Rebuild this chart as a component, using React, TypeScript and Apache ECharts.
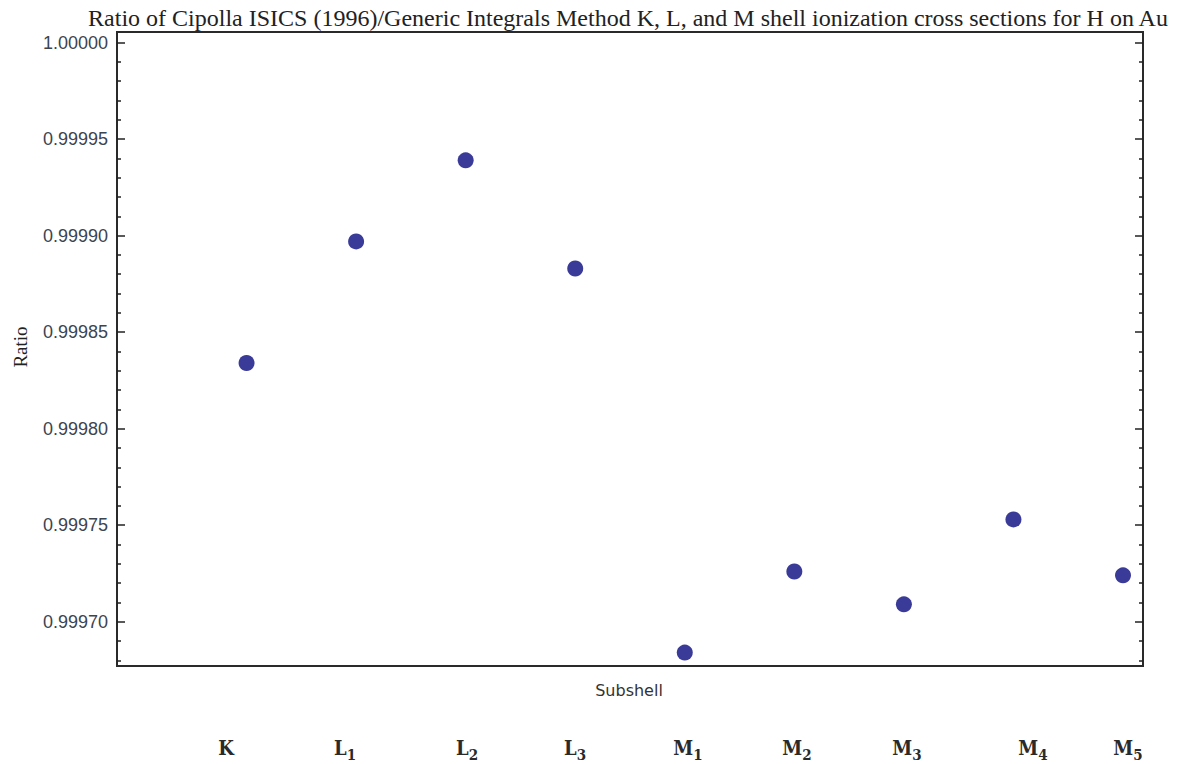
import React, { useEffect, useRef } from "react";
import * as echarts from "echarts";

const TITLE = "Ratio of Cipolla ISICS (1996)/Generic Integrals Method K, L, and M shell ionization cross sections for H on Au";
const Y_NAME = "Ratio";
const X_NAME = "Subshell";

// subshell categories (base letter + subscript)
const subshellBase = ["K", "L", "L", "L", "M", "M", "M", "M", "M"];
const subshellSub = ["", "1", "2", "3", "1", "2", "3", "4", "5"];
const subshellIndex = [1, 2, 3, 4, 5, 6, 7, 8, 9];
const ratioValues = [0.999834, 0.999897, 0.999939, 0.999883, 0.999684, 0.999726, 0.999709, 0.999753, 0.999724];

// y tick labels
const yMajorTicks = [0.9997, 0.99975, 0.9998, 0.99985, 0.9999, 0.99995, 1.0];
const yMinorTicks = [
  0.99968, 0.99969, 0.99971, 0.99972, 0.99973, 0.99974, 0.99976, 0.99977, 0.99978, 0.99979,
  0.99981, 0.99982, 0.99983, 0.99984, 0.99986, 0.99987, 0.99988, 0.99989, 0.99991, 0.99992,
  0.99993, 0.99994, 0.99996, 0.99997, 0.99998, 0.99999,
];

const Y_MIN = 0.99967705;
const Y_MAX = 1.0000055;
const X_MIN = -0.1825;
const X_MAX = 9.1825;

// label layout (pixel centres)
const labelX = [226, 345, 467, 575, 688, 797, 907, 1033, 1128];
const LABEL_Y = 748;
const LABEL_FONT = "'DejaVu Serif Condensed', 'DejaVu Serif', serif";

export default function App() {
  const ref = useRef<HTMLDivElement>(null);
  useEffect(() => {
    if (!ref.current) return;
    const chart = echarts.init(ref.current, null, { renderer: "svg" });
    const tickAxis = (pos: "left" | "right", values: number[], len: number) => ({
      type: "value",
      position: pos,
      offset: 0,
      min: Y_MIN,
      max: Y_MAX,
      axisLine: { show: false },
      splitLine: { show: false },
      axisTick: {
        show: true,
        inside: true,
        length: len,
        customValues: values,
        lineStyle: { color: "#222", width: 1.5 },
      },
      axisLabel: { show: false },
    });
    const labelAxis = {
      type: "value",
      position: "left",
      offset: 0,
      min: Y_MIN,
      max: Y_MAX,
      axisLine: { show: false },
      splitLine: { show: false },
      axisTick: { show: false },
      axisLabel: {
        show: true,
        customValues: yMajorTicks,
        formatter: (v: number) => v.toFixed(5),
        fontFamily: "Liberation Sans",
        fontSize: 18,
        color: "#3c4450",
        margin: 9,
      },
    };
    const graphicLabels = subshellBase.map((b, i) => ({
      type: "text",
      x: labelX[i],
      y: LABEL_Y,
      style: {
        text: subshellSub[i] ? `{b|${b}}{s|${subshellSub[i]}}` : `{b|${b}}`,
        align: "center",
        verticalAlign: "middle",
        rich: {
          b: { fontFamily: LABEL_FONT, fontWeight: "bold", fontSize: 20, lineHeight: 28, verticalAlign: "middle", fill: "#2a2a2a" },
          s: { fontFamily: LABEL_FONT, fontWeight: "bold", fontSize: 15, lineHeight: 16, verticalAlign: "bottom", fill: "#2a2a2a" },
        },
      },
    }));
    chart.setOption({
      animation: false,
      backgroundColor: "#ffffff",
      grid: {
        left: 117,
        right: 38,
        top: 32,
        bottom: 98,
        show: true,
        borderColor: "#2a2a2a",
        borderWidth: 2,
        backgroundColor: "#ffffff",
      },
      xAxis: {
        type: "value",
        min: X_MIN,
        max: X_MAX,
        show: false,
      },
      yAxis: [
        labelAxis,
        tickAxis("left", yMajorTicks, 8),
        tickAxis("left", yMinorTicks, 4),
        tickAxis("right", yMajorTicks, 8),
        tickAxis("right", yMinorTicks, 4),
      ],
      series: [
        {
          type: "scatter",
          yAxisIndex: 0,
          symbol: "circle",
          symbolSize: 16,
          itemStyle: { color: "#3a3a98", opacity: 1 },
          data: subshellIndex.map((x, i) => [x, ratioValues[i]]),
        },
      ],
      graphic: [
        {
          type: "text",
          x: 628,
          y: 18,
          style: {
            text: TITLE,
            align: "center",
            verticalAlign: "middle",
            fontFamily: "Liberation Serif",
            fontSize: 24,
            fill: "#222",
          },
        },
        {
          type: "text",
          x: 20,
          y: 347,
          rotation: Math.PI / 2,
          style: {
            text: Y_NAME,
            align: "center",
            verticalAlign: "middle",
            fontFamily: "Liberation Serif",
            fontSize: 19,
            fill: "#222",
          },
        },
        {
          type: "text",
          x: 629,
          y: 690,
          style: {
            text: X_NAME,
            align: "center",
            verticalAlign: "middle",
            fontFamily: "DejaVu Sans",
            fontSize: 16,
            fill: "#333",
          },
        },
        ...graphicLabels,
      ],
    });
    return () => chart.dispose();
  }, []);
  return (
    <div
      ref={ref}
      style={{ position: "fixed", left: 0, top: 0, width: 1181, height: 764 }}
    />
  );
}
